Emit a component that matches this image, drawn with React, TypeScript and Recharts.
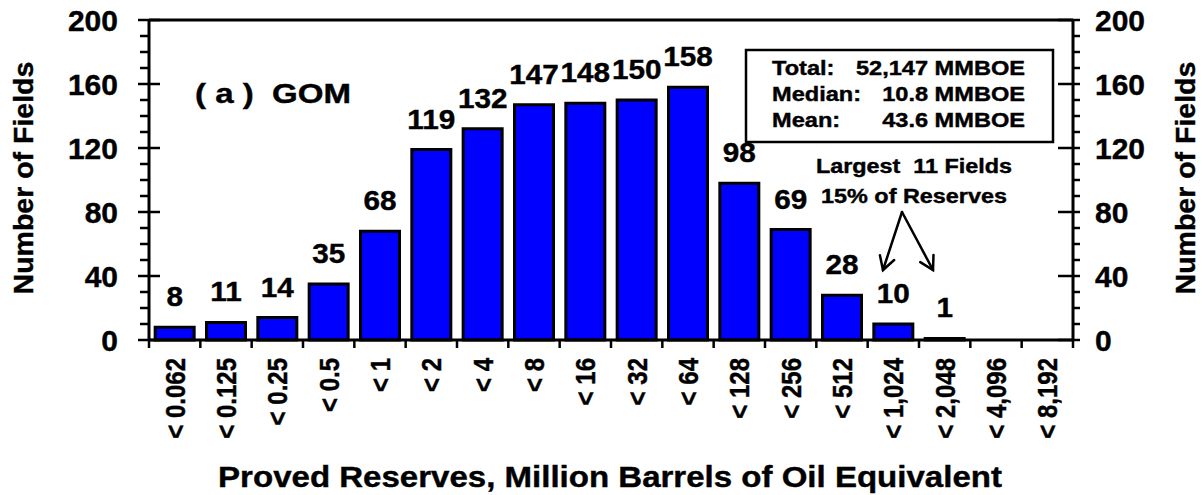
import React from "react";
import { BarChart, Bar, XAxis, YAxis, ReferenceLine, LabelList } from "recharts";

document.body.style.margin = "0";

// size classes, upper bound in MMBOE
const categories = [
  "0.062", "0.125", "0.25", "0.5", "1", "2", "4", "8", "16",
  "32", "64", "128", "256", "512", "1,024", "2,048", "4,096", "8,192",
];
const fieldCounts = [8, 11, 14, 35, 68, 119, 132, 147, 148, 150, 158, 98, 69, 28, 10, 1, 0, 0];

const yTicks = [0, 10, 20, 30, 40, 50, 60, 70, 80, 90, 100, 110, 120, 130, 140, 150, 160, 170, 180, 190, 200];
const yLabelTicks = [0, 40, 80, 120, 160, 200];

const statsLabels = ["Total:", "Median:", "Mean:"];
const statsValues = ["52,147 MMBOE", "10.8 MMBOE", "43.6 MMBOE"];
const noteLines = ["Largest  11 Fields", "15% of Reserves"];

const data = categories.map((c, i) => ({ cat: "< " + c, n: fieldCounts[i] }));

const FONT = "'Liberation Sans', Arial, Helvetica, sans-serif";
const W = 1202;
const H = 495;

function SText({ x, y, size, sx = 1, anchor = "start", rotate = 0, children }: any) {
  const tf = rotate
    ? `translate(${x},${y}) rotate(${rotate}) scale(1,${sx})`
    : `translate(${x},${y}) scale(${sx},1)`;
  return (
    <text
      transform={tf}
      x={0}
      y={0}
      textAnchor={anchor}
      fontFamily={FONT}
      fontWeight="bold"
      fontSize={size}
      fill="#000"
      stroke="#000"
      strokeWidth={0.4}
      style={{ whiteSpace: "pre" }}
    >
      {children}
    </text>
  );
}

const LeftTick = (props: any) => {
  const { x, y, payload } = props;
  const v = payload.value;
  const major = yLabelTicks.includes(v);
  return (
    <g>
      <line x1={major ? x - 11 : x - 9} x2={major ? x + 11 : x} y1={y} y2={y} stroke="#000" strokeWidth={2.5} />
      {major && (
        <SText x={x - 31} y={y + 11} size={30} anchor="end">
          {v}
        </SText>
      )}
    </g>
  );
};

const RightTick = (props: any) => {
  const { x, y, payload } = props;
  const v = payload.value;
  const major = yLabelTicks.includes(v);
  return (
    <g>
      <line x1={major ? x - 15 : x} x2={x + 7} y1={y} y2={y} stroke="#000" strokeWidth={2.5} />
      {major && (
        <SText x={x + 22} y={y + 11} size={30}>
          {v}
        </SText>
      )}
    </g>
  );
};

const XTick = (props: any) => {
  const { x, y, payload, index } = props;
  const half = payload.offset || (1073 - 149) / categories.length / 2;
  return (
    <g>
      <line x1={x - half} x2={x - half} y1={y} y2={y + 8} stroke="#000" strokeWidth={2.5} />
      {index === categories.length - 1 && (
        <line x1={x + half} x2={x + half} y1={y} y2={y + 8} stroke="#000" strokeWidth={2.5} />
      )}
      <SText x={x + 10} y={y + 18} size={24} sx={1.15} rotate={-90} anchor="end">
        {payload.value}
      </SText>
    </g>
  );
};

const ValueLabel = (props: any) => {
  const { x, y, width, value } = props;
  if (!value) return null;
  return (
    <SText x={x + width / 2} y={y - 21} size={27} sx={1.1} anchor="middle">
      {value}
    </SText>
  );
};

function Arrow({ x1, y1, x2, y2 }: any) {
  const dx = x2 - x1;
  const dy = y2 - y1;
  const len = Math.sqrt(dx * dx + dy * dy);
  const ux = dx / len;
  const uy = dy / len;
  const head = 15;
  const a = Math.PI / 6;
  const h1x = x2 - head * (ux * Math.cos(a) - uy * Math.sin(a));
  const h1y = y2 - head * (uy * Math.cos(a) + ux * Math.sin(a));
  const h2x = x2 - head * (ux * Math.cos(-a) - uy * Math.sin(-a));
  const h2y = y2 - head * (uy * Math.cos(-a) + ux * Math.sin(-a));
  return (
    <g stroke="#000" strokeWidth={2.5} strokeLinecap="round" fill="none">
      <line x1={x1} y1={y1} x2={x2} y2={y2} />
      <polyline points={`${h1x},${h1y} ${x2},${y2} ${h2x},${h2y}`} />
    </g>
  );
}

export default function App() {
  return (
    <div style={{ position: "relative", width: W, height: H, background: "#fff" }}>
      <BarChart
        width={W}
        height={H}
        data={data}
        margin={{ top: 20, right: 0, bottom: 0, left: 0 }}
        barCategoryGap="12%"
      >
        <XAxis
          dataKey="cat"
          height={155}
          interval={0}
          tickSize={0}
          tickMargin={0}
          tickLine={false}
          axisLine={{ stroke: "#000", strokeWidth: 3 }}
          tick={<XTick />}
        />
        <YAxis
          yAxisId="left"
          width={149}
          domain={[0, 200]}
          ticks={yTicks}
          interval={0}
          tickSize={0}
          tickMargin={0}
          tickLine={false}
          axisLine={{ stroke: "#000", strokeWidth: 3 }}
          tick={<LeftTick />}
        />
        <YAxis
          yAxisId="right"
          orientation="right"
          width={129}
          domain={[0, 200]}
          allowDataOverflow
          ticks={yTicks}
          interval={0}
          tickSize={0}
          tickMargin={0}
          tickLine={false}
          axisLine={{ stroke: "#000", strokeWidth: 3 }}
          tick={<RightTick />}
        />
        <ReferenceLine yAxisId="left" y={200} stroke="#000" strokeWidth={3} />
        <Bar yAxisId="left" dataKey="n" fill="#0000ff" stroke="#000" strokeWidth={3} isAnimationActive={false}>
          <LabelList dataKey="n" content={<ValueLabel />} />
        </Bar>
      </BarChart>
      <svg
        width={W}
        height={H}
        style={{ position: "absolute", left: 0, top: 0, pointerEvents: "none" }}
      >
        <SText x={33} y={178} size={28.5} rotate={-90} anchor="middle">
          Number of Fields
        </SText>
        <SText x={1195} y={178} size={28.5} rotate={-90} anchor="middle">
          Number of Fields
        </SText>
        <SText x={610} y={487} size={29.5} sx={1.12} anchor="middle">
          Proved Reserves, Million Barrels of Oil Equivalent
        </SText>
        <SText x={195} y={103} size={28} sx={1.18}>
          {"( a )  GOM"}
        </SText>
        <rect x={746} y={50} width={307} height={92} fill="#fff" stroke="#000" strokeWidth={2.5} />
        {statsLabels.map((s, i) => (
          <SText key={s} x={772} y={75 + i * 26} size={20} sx={1.18}>
            {s}
          </SText>
        ))}
        {statsValues.map((s, i) => (
          <SText key={s} x={1025} y={75 + i * 26} size={20} sx={1.18} anchor="end">
            {s}
          </SText>
        ))}
        {noteLines.map((s, i) => (
          <SText key={s} x={914} y={173 + i * 30} size={19.5} sx={1.2} anchor="middle">
            {s}
          </SText>
        ))}
        <Arrow x1={902} y1={212} x2={883} y2={270} />
        <Arrow x1={902} y1={212} x2={933} y2={270} />
      </svg>
    </div>
  );
}
